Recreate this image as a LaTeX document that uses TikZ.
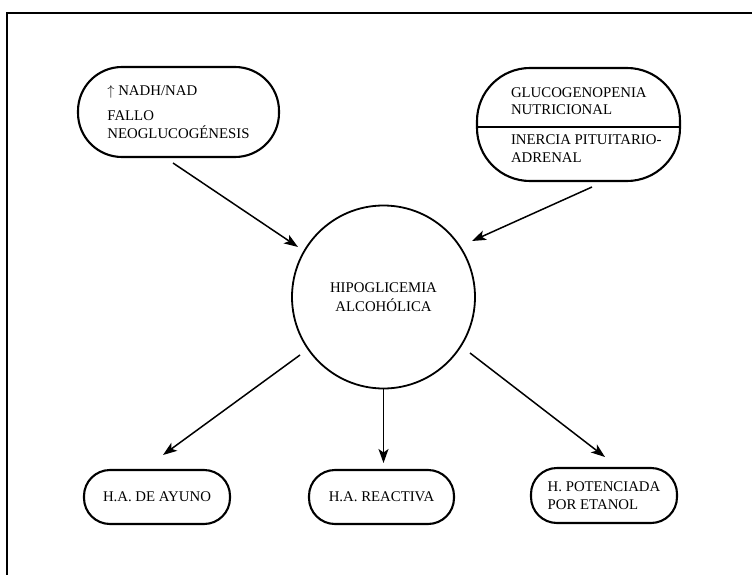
\documentclass[tikz,border=0pt]{standalone}
\usepackage{fontspec}
\setmainfont{Liberation Serif}
\usetikzlibrary{arrows.meta}
\begin{document}
\begin{tikzpicture}[x=1pt,y=-1pt,
  every node/.style={font=\fontsize{14.8}{17.5}\selectfont, inner sep=0pt, outer sep=0pt},
  roundbox/.style={draw, line width=2.1pt, rounded corners=#1},
  arr/.style={line width=1.5pt, -{Stealth[length=14pt,width=10pt,inset=3.5pt]}},
  frame/.style={line width=1.3pt},
  divider/.style={line width=1.5pt}]
\useasboundingbox (0,0) rectangle (752,575);
\draw[frame] (7,575) -- (7,13) -- (752,13);

% top left box
\node[roundbox=44, minimum width=201pt, minimum height=90pt, align=left] (tl) at (178.5,112)
  {$\uparrow$ NADH/NAD\\[8pt] FALLO\\ NEOGLUCOGÉNESIS};

% top right box
\node[roundbox=53, minimum width=203pt, minimum height=113pt] (tr) at (578.5,124.5) {};
\node[anchor=west, align=left] (trt) at (511,101) {GLUCOGENOPENIA\\ NUTRICIONAL};
\node[anchor=west, align=left] (trb) at (511,148.5) {INERCIA PITUITARIO-\\ ADRENAL};
\coordinate (dv) at (0,127);
\draw[divider] (tr.west |- dv) -- (tr.east |- dv);

% centre circle
\node[draw, circle, line width=1.8pt, minimum size=183pt, align=center] (c) at (383.5,297)
  {HIPOGLICEMIA\\[1.5pt] ALCOHÓLICA};

% bottom boxes
\node[roundbox=26, minimum width=146pt, minimum height=54pt] (b1) at (157,497) {H.A. DE AYUNO};
\node[roundbox=26, minimum width=145pt, minimum height=54pt] (b2) at (381.5,497) {H.A. REACTIVA};
\node[roundbox=26, minimum width=146pt, minimum height=55pt, align=left] (b3) at (604,495.5)
  {H. POTENCIADA\\ POR ETANOL};

% arrow end points
\coordinate (a1s) at (173,163);
\coordinate (a1e) at (298,247);
\coordinate (a2s) at (592,187);
\coordinate (a2e) at (472,241);
\coordinate (a3s) at (300,355);
\coordinate (a3e) at (163,455);
\coordinate (a4e) at (383.5,463);
\coordinate (a5s) at (470,353);
\coordinate (a5e) at (605,457);

\draw[arr] (a1s) -- (a1e);
\draw[arr] (a2s) -- (a2e);
\draw[arr] (a3s) -- (a3e);
\draw[arr] (c.south) -- (a4e);
\draw[arr] (a5s) -- (a5e);
\end{tikzpicture}
\end{document}
